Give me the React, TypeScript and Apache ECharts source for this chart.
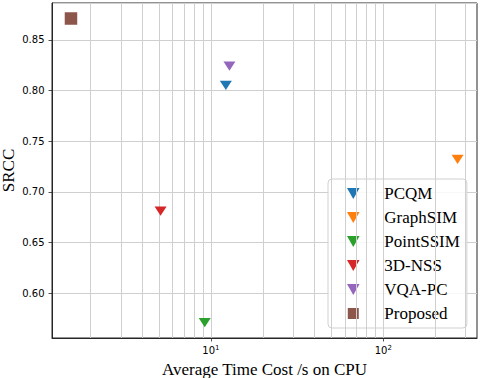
import React, { useEffect, useRef } from 'react';
import * as echarts from 'echarts';

const methods = ['PCQM', 'GraphSIM', 'PointSSIM', '3D-NSS', 'VQA-PC', 'Proposed'];
const timeCost = [12.2, 270, 9.2, 5.1, 12.8, 1.54];
const srcc = [0.805, 0.732, 0.571, 0.681, 0.824, 0.871];
const colors = ['#1f77b4', '#ff7f0e', '#2ca02c', '#d62728', '#9467bd', '#8c564b'];
const xGridValues = [2, 3, 4, 5, 6, 7, 8, 9, 10, 20, 30, 40, 50, 60, 70, 80, 90, 100, 200, 300];
const xMin = 1.195;
const xMax = 350;
const yMin = 0.5558;
const yMax = 0.8863;

const TRI = 'path://M0,0 L12,0 L6,10.5 Z';
const SQR = 'path://M0,0 L12,0 L12,12 L0,12 Z';

export default function App() {
  const ref = useRef<HTMLDivElement>(null);
  useEffect(() => {
    if (!ref.current) return;
    const chart = echarts.init(ref.current, null, { renderer: 'svg' });
    const serif = 'Liberation Serif';
    const sans = 'DejaVu Sans';
    const axisColor = '#262626';
    const gridColor = '#cfcfcf';

    const pointSeries = methods.map((m, i) => ({
      name: m,
      type: 'scatter',
      data: [[timeCost[i], srcc[i]]],
      symbol: m === 'Proposed' ? SQR : TRI,
      symbolSize: m === 'Proposed' ? [12.5, 12.5] : [12, 10.5],
      symbolKeepAspect: true,
      itemStyle: { color: colors[i], opacity: 1 },
      z: 5,
      silent: true,
    }));

    chart.setOption({
      animation: false,
      backgroundColor: '#fff',
      grid: {
        left: 52, right: 21, top: 3, bottom: 40,
        containLabel: false,
        outerBoundsMode: 'none',
        show: true, borderColor: axisColor, borderWidth: 1, backgroundColor: 'transparent',
      },
      xAxis: {
        type: 'log',
        logBase: 10,
        min: xMin,
        max: xMax,
        name: 'Average Time Cost /s on CPU',
        nameLocation: 'middle',
        nameGap: 19,
        nameTextStyle: { fontFamily: serif, fontSize: 17, color: '#000' },
        axisLine: { show: true, lineStyle: { color: axisColor, width: 1 } },
        axisTick: { show: true, length: 3.5, lineStyle: { color: axisColor, width: 0.8 } },
        splitLine: { show: false },
        axisLabel: {
          showMinLabel: false,
          showMaxLabel: false,
          margin: 6,
          formatter: (v: number) => {
            const e = Math.log10(v);
            const r = Math.round(e);
            if (Math.abs(e - r) < 1e-6 && r >= 1 && r <= 2) return `{a|10}{b|${r}}`;
            return '';
          },
          rich: {
            a: { fontFamily: sans, fontSize: 10, color: '#000', lineHeight: 12 },
            b: { fontFamily: sans, fontSize: 7, color: '#000', lineHeight: 12, verticalAlign: 'top', padding: [0, 0, 5, 0] },
          },
        },
      },
      yAxis: {
        type: 'value',
        min: yMin,
        max: yMax,
        name: 'SRCC',
        nameLocation: 'middle',
        nameGap: 35,
        nameMoveOverlap: false,
        nameTextStyle: { fontFamily: serif, fontSize: 17, color: '#000' },
        axisLine: { show: true, lineStyle: { color: axisColor, width: 1 } },
        axisTick: { show: true, length: 3.5, lineStyle: { color: axisColor, width: 0.8 } },
        splitLine: { show: true, lineStyle: { color: gridColor, width: 1 } },
        axisLabel: {
          showMinLabel: false,
          showMaxLabel: false,
          margin: 7.5,
          fontFamily: sans,
          fontSize: 10,
          color: '#000',
          formatter: (v: number) => v.toFixed(2),
        },
      },
      legend: {
        orient: 'vertical',
        left: 328,
        top: 179,
        padding: [6, 7, 6, 19],
        itemWidth: 52,
        itemHeight: 11,
        itemGap: 7,
        symbolKeepAspect: true,
        backgroundColor: 'rgba(255,255,255,0.85)',
        borderColor: '#d0d0d0',
        borderWidth: 1,
        borderRadius: 4,
        textStyle: { fontFamily: serif, fontSize: 17, color: '#000' },
        data: methods,
      },
      series: [
        {
          name: '__grid',
          type: 'line',
          data: [],
          silent: true,
          z: 1,
          markLine: {
            silent: true,
            symbol: ['none', 'none'],
            label: { show: false },
            lineStyle: { color: gridColor, width: 1, type: 'solid' },
            data: xGridValues.map((v) => ({ xAxis: v })),
          },
        },
        ...pointSeries,
      ],
    });
    return () => chart.dispose();
  }, []);
  return <div ref={ref} style={{ width: 498, height: 378, position: 'absolute', left: 0, top: 0 }} />;
}
